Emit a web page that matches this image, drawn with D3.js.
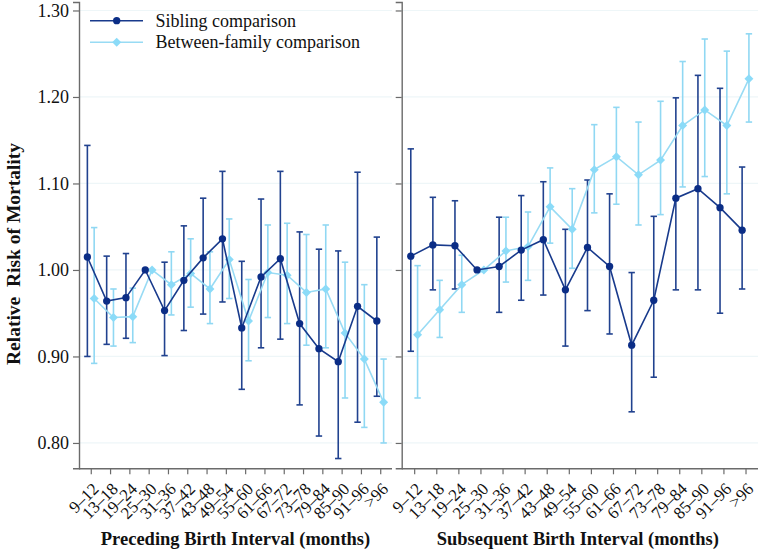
<!DOCTYPE html>
<html>
<head>
<meta charset="utf-8">
<script src="https://cdn.jsdelivr.net/npm/d3@7"></script>
<style>
  body { margin: 0; background: #fff; }
  svg { display: block; }
  text { font-family: "Liberation Serif", "Times New Roman", serif; fill: #111; }
</style>
</head>
<body>
<svg id="chart" width="760" height="555"></svg>
<script>
const categories = ["9–12","13–18","19–24","25–30","31–36","37–42","43–48","49–54","55–60","61–66","67–72","73–78","79–84","85–90","91–96",">96"];
const yTicks = [0.80, 0.90, 1.00, 1.10, 1.20, 1.30];

// Preceding birth interval
const precSib   = [1.015,0.964,0.968,1.000,0.953,0.988,1.014,1.036,0.933,0.992,1.013,0.938,0.909,0.894,0.958,0.941];
const precSibLo = [0.900,0.914,0.921,null,0.901,0.930,0.949,0.963,0.862,0.910,0.920,0.844,0.808,0.782,0.824,0.854];
const precSibHi = [1.144,1.016,1.019,null,1.009,1.051,1.083,1.114,1.010,1.082,1.114,1.044,1.024,1.022,1.113,1.038];
const precBtw   = [0.967,0.945,0.946,1.000,0.983,0.996,0.978,1.012,0.941,0.997,0.994,0.974,0.978,0.927,0.897,0.847];
const precBtwLo = [0.892,0.912,0.916,null,0.948,0.957,0.938,0.967,0.895,0.945,0.938,0.913,0.910,0.852,0.818,0.800];
const precBtwHi = [1.049,0.978,0.979,null,1.021,1.036,1.021,1.059,0.989,1.052,1.054,1.041,1.052,1.009,0.983,0.897];

// Subsequent birth interval
const subsSib   = [1.016,1.029,1.028,1.000,1.004,1.023,1.035,0.977,1.026,1.004,0.913,0.965,1.083,1.094,1.072,1.046];
const subsSibLo = [0.906,0.977,0.978,null,0.951,0.965,0.971,0.912,0.953,0.926,0.836,0.876,0.977,0.977,0.950,0.978];
const subsSibHi = [1.140,1.084,1.080,null,1.061,1.086,1.102,1.047,1.104,1.088,0.997,1.062,1.199,1.225,1.210,1.119];
const subsBtw   = [0.925,0.954,0.983,1.000,1.022,1.027,1.073,1.047,1.116,1.131,1.110,1.127,1.167,1.185,1.167,1.221];
const subsBtwLo = [0.852,0.922,0.951,null,0.986,0.988,1.031,1.002,1.066,1.076,1.052,1.064,1.096,1.108,1.088,1.171];
const subsBtwHi = [1.005,0.988,1.017,null,1.061,1.067,1.118,1.094,1.168,1.188,1.171,1.195,1.241,1.267,1.253,1.273];

const seriesNames = ["Sibling comparison", "Between-family comparison"];
const panelTitles = ["Preceding Birth Interval (months)", "Subsequent Birth Interval (months)"];
const yTitle = "Relative\u00A0\u00A0Risk of Mortality";

const darkLine = "#183a8c", darkMark = "#0b2d86", darkBar = "#21428f";
const lightLine = "#98dbf4", lightMark = "#8bdbf8", lightBar = "#90d8f3";
const axisColor = "#6b6b6b", gridColor = "#eef6f8";

const svg = d3.select("#chart");
const y = d3.scaleLinear().domain([0.7707, 1.3098]).range([468.3, 2]);

const panels = [
  { range: [79, 392], pad: 0.61, labels: true, sib: [precSib, precSibLo, precSibHi], btw: [precBtw, precBtwLo, precBtwHi], title: panelTitles[0] },
  { range: [401.7, 758], pad: 0.565, labels: false, sib: [subsSib, subsSibLo, subsSibHi], btw: [subsBtw, subsBtwLo, subsBtwHi], title: panelTitles[1] }
];

const diamond = d3.symbol().type(d3.symbolSquare).size(40);
const circle = d3.symbol().type(d3.symbolCircle).size(42);

panels.forEach(p => {
  const x = d3.scalePoint().domain(categories).range(p.range).padding(p.pad);
  const g = svg.append("g");
  const x0 = p.range[0], x1 = p.range[1];

  // gridlines
  g.selectAll(".grid").data(yTicks).join("line")
    .attr("x1", x0).attr("x2", x1)
    .attr("y1", d => y(d)).attr("y2", d => y(d))
    .attr("stroke", gridColor).attr("stroke-width", 1.2);

  // y axis
  const yAxis = d3.axisLeft(y).tickValues(yTicks).tickSize(6).tickPadding(4)
    .tickFormat(p.labels ? d3.format(".2f") : () => "");
  const ya = g.append("g").attr("transform", `translate(${x0},0)`).call(yAxis);
  ya.select(".domain").attr("stroke", axisColor).attr("stroke-width", 1.4);
  ya.selectAll(".tick line").attr("stroke", axisColor).attr("stroke-width", 1.2);
  ya.selectAll(".tick text").style("font-family", "Liberation Serif, serif").style("font-size", "18px").attr("fill", "#222");

  // x axis
  const xAxis = d3.axisBottom(x).tickSize(6).tickFormat("");
  const xa = g.append("g").attr("transform", `translate(0,${y.range()[0]})`).call(xAxis);
  xa.select(".domain").attr("stroke", axisColor).attr("stroke-width", 1.4)
    .attr("d", `M${x0},0.5H${x1}`);
  xa.selectAll(".tick line").attr("stroke", axisColor).attr("stroke-width", 1.2);

  // rotated tick labels
  g.selectAll(".xl").data(categories).join("text")
    .attr("transform", d => `translate(${x(d) + 9},${490}) rotate(-45)`)
    .attr("text-anchor", "end")
    .style("font-size", "17px")
    .attr("fill", "#222")
    .text(d => d);

  // panel title
  g.append("text")
    .attr("x", (x0 + x1) / 2 - (p.labels ? 0 : 2)).attr("y", 545)
    .attr("text-anchor", "middle")
    .style("font-size", "18.5px").style("font-weight", "bold")
    .text(p.title);

  const drawBars = (vals, lo, hi, off, color) => {
    const idx = d3.range(categories.length).filter(i => lo[i] != null);
    const bg = g.append("g").attr("stroke", color).attr("stroke-width", 1.6).attr("fill", "none");
    bg.selectAll(".v").data(idx).join("line")
      .attr("x1", i => x(categories[i]) + off).attr("x2", i => x(categories[i]) + off)
      .attr("y1", i => y(lo[i])).attr("y2", i => y(hi[i]));
    bg.selectAll(".c1").data(idx).join("line")
      .attr("x1", i => x(categories[i]) + off - 3.2).attr("x2", i => x(categories[i]) + off + 3.2)
      .attr("y1", i => y(lo[i])).attr("y2", i => y(lo[i]));
    bg.selectAll(".c2").data(idx).join("line")
      .attr("x1", i => x(categories[i]) + off - 3.2).attr("x2", i => x(categories[i]) + off + 3.2)
      .attr("y1", i => y(hi[i])).attr("y2", i => y(hi[i]));
  };
  const drawLine = (vals, off, lineColor, markColor, sym, rot) => {
    const line = d3.line().x((d, i) => x(categories[i]) + off).y(d => y(d));
    g.append("path").datum(vals).attr("d", line)
      .attr("fill", "none").attr("stroke", lineColor).attr("stroke-width", 1.6);
    g.selectAll(null).data(vals).join("path")
      .attr("transform", (d, i) => `translate(${x(categories[i]) + off},${y(d)}) rotate(${rot})`)
      .attr("d", sym).attr("fill", markColor);
  };

  drawBars(...p.sib, -3.4, darkBar);
  drawBars(...p.btw, 3.4, lightBar);
  drawLine(p.btw[0], 3.4, lightLine, lightMark, diamond, 45);
  drawLine(p.sib[0], -3.4, darkLine, darkMark, circle, 0);
});

// y title
svg.append("text")
  .attr("transform", "translate(20,254) rotate(-90)")
  .attr("text-anchor", "middle")
  .style("font-size", "19.5px").style("font-weight", "bold")
  .text(yTitle);

// legend
const legend = svg.append("g");
const legItems = [
  { name: seriesNames[0], line: darkLine, mark: darkMark, sym: circle, rot: 0, yy: 20.7 },
  { name: seriesNames[1], line: lightLine, mark: lightMark, sym: diamond, rot: 45, yy: 42.3 }
];
legItems.forEach(it => {
  legend.append("line").attr("x1", 90).attr("x2", 143).attr("y1", it.yy).attr("y2", it.yy)
    .attr("stroke", it.line).attr("stroke-width", 1.6);
  legend.append("path").attr("transform", `translate(116.7,${it.yy}) rotate(${it.rot})`).attr("d", it.sym).attr("fill", it.mark);
  legend.append("text").attr("x", 155.5).attr("y", it.yy + 6)
    .style("font-size", "18px").attr("fill", "#222").text(it.name);
});
</script>
</body>
</html>
